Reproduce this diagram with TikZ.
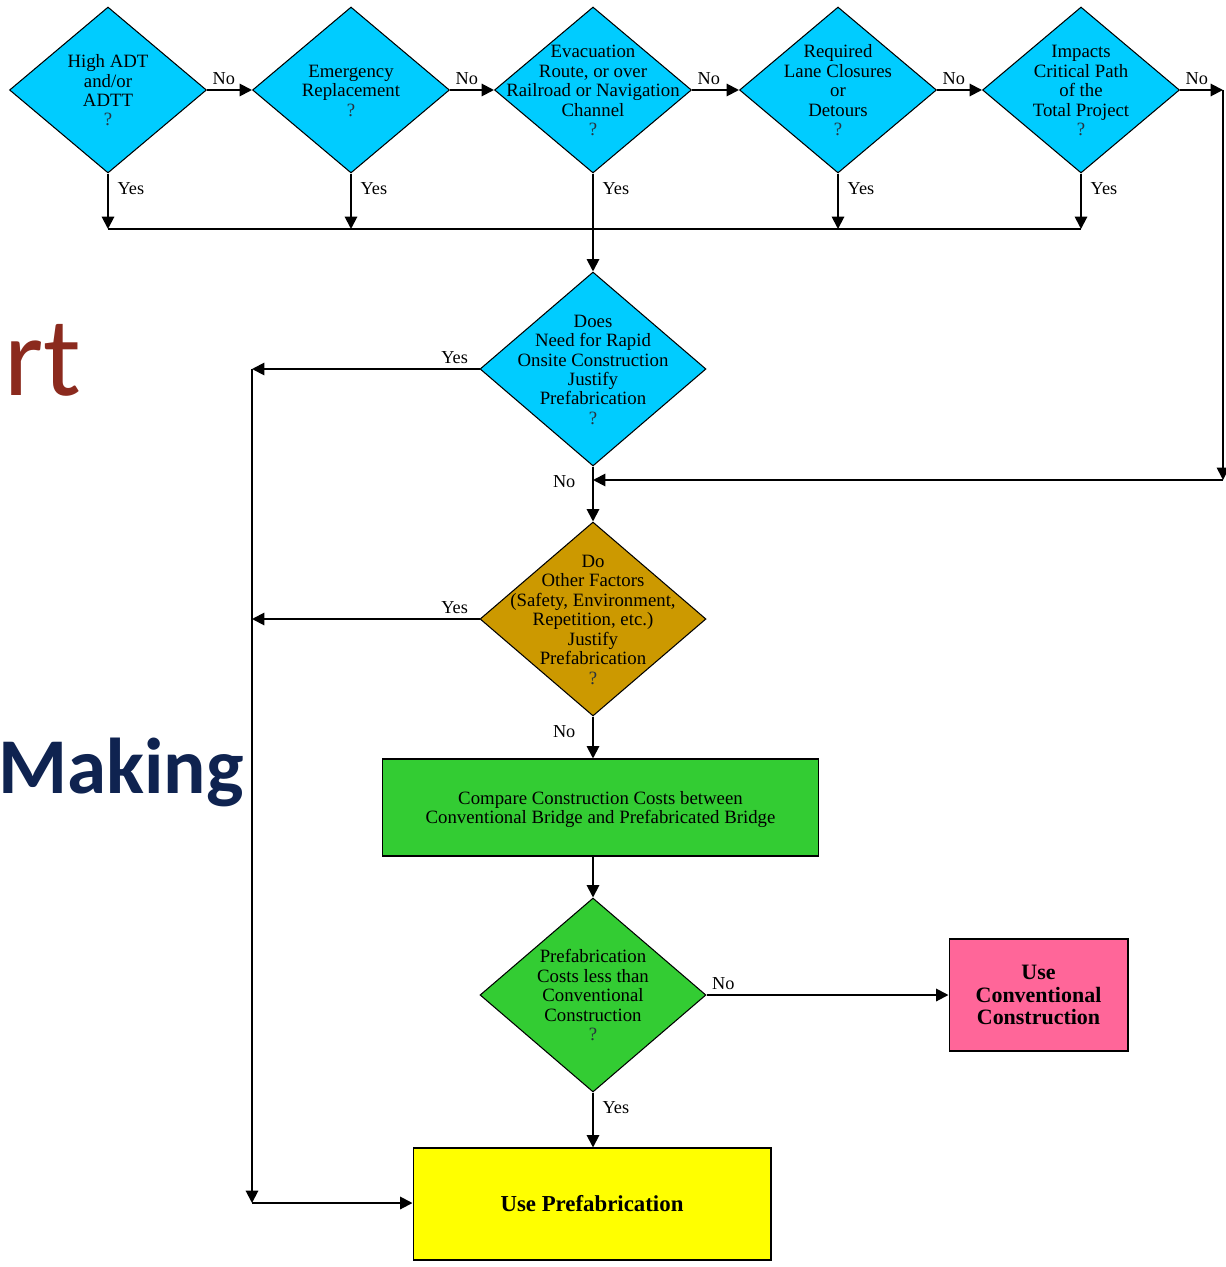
\documentclass[tikz,border=0pt]{standalone}
\usepackage{fontspec}
\setmainfont{Liberation Serif}
\newfontfamily\slidefont{Carlito}
\usetikzlibrary{shapes.geometric, arrows.meta}
\definecolor{askcyan}{RGB}{0,204,255}
\definecolor{askgold}{RGB}{204,153,0}
\definecolor{costgreen}{RGB}{51,204,51}
\definecolor{convpink}{RGB}{255,102,153}
\definecolor{prefyellow}{RGB}{255,255,0}
\definecolor{qmark}{RGB}{40,50,62}
\definecolor{titlered}{RGB}{139,42,30}
\definecolor{titlenavy}{RGB}{15,35,80}

% diamond text that does not grow the diamond
\newcommand{\asktext}[1]{\smash{\makebox[0pt]{\raisebox{-4.4pt}{\begin{tabular}{@{}c@{}}#1\end{tabular}}}}}
\newcommand{\qm}{\textcolor{qmark}{?}}

\begin{document}
\begin{tikzpicture}[
    x=0.02cm, y=-0.02cm,
    query/.style={diamond, draw=black, line width=0.6pt, inner sep=0pt,
                  font=\fontsize{10.7}{11.06}\selectfont},
    topq/.style={query, fill=askcyan, minimum width=3.94cm, minimum height=3.32cm},
    midq/.style={query, minimum width=4.52cm, minimum height=3.88cm},
    box/.style={rectangle, draw=black, line width=0.6pt, align=center, inner sep=0pt},
    flow/.style={-{Triangle[length=7pt,width=7pt]}, line width=1.1pt},
    link/.style={line width=1.1pt},
    lbl/.style={font=\fontsize{10.4}{11}\selectfont, inner sep=3pt},
]
\useasboundingbox (0,0) rectangle (1226,1267);

% slide title fragments
\node[font=\slidefont\fontsize{64}{64}\selectfont, text=titlered,
      anchor=base west, inner sep=0pt] (titlert) at (4,395) {rt};
\node[font=\slidefont\bfseries\fontsize{45}{45}\selectfont, text=titlenavy,
      anchor=base west, inner sep=0pt] (titlemaking) at (-2,793) {Making};

% top row of questions
\node[topq] (adt) at (108,90) {\asktext{High ADT\\and/or\\ADTT\\\qm}};
\node[topq] (emerg) at (351,90) {\asktext{Emergency\\Replacement\\\qm}};
\node[topq] (evac) at (593,90)
     {\asktext{Evacuation\\Route, or over\\Railroad or Navigation\\Channel\\\qm}};
\node[topq] (lanes) at (838,90) {\asktext{Required\\Lane Closures\\or\\Detours\\\qm}};
\node[topq] (critical) at (1081,90)
     {\asktext{Impacts\\Critical Path\\of the\\Total Project\\\qm}};

% main column
\node[midq, fill=askcyan] (rapid) at (593,369)
     {\asktext{Does\\Need for Rapid\\Onsite Construction\\Justify\\Prefabrication\\\qm}};
\node[midq, fill=askgold] (other) at (593,619)
     {\asktext{Do\\Other Factors\\(Safety, Environment,\\Repetition, etc.)\\Justify\\Prefabrication\\\qm}};
\node[box, fill=costgreen, minimum width=8.74cm, minimum height=1.94cm,
      text depth=0pt, font=\fontsize{10.7}{10.8}\selectfont] (compare) at (600.5,807.5)
     {Compare Construction Costs between\\Conventional Bridge and Prefabricated Bridge};
\node[midq, fill=costgreen] (cheap) at (593,995)
     {\asktext{Prefabrication\\Costs less than\\Conventional\\Construction\\\qm}};
\node[box, fill=convpink, minimum width=3.58cm, minimum height=2.24cm,
      font=\bfseries\fontsize{12.5}{13}\selectfont] (conv) at (1038.5,995)
     {Use\\Conventional\\Construction};
\node[box, fill=prefyellow, minimum width=7.16cm, minimum height=2.24cm,
      font=\bfseries\fontsize{13}{14}\selectfont] (prefab) at (592,1204)
     {Use Prefabrication};

\coordinate (bus) at (593,229);
\coordinate (ne) at (1223,90);
\coordinate (se) at (1223,480);
\coordinate (join) at (593,480);
\coordinate (lt) at (252,369);
\coordinate (lb) at (252,1203);

% "No" chain along the top
\draw[flow] (adt.east) -- (emerg.west);
\draw[flow] (emerg.east) -- (evac.west);
\draw[flow] (evac.east) -- (lanes.west);
\draw[flow] (lanes.east) -- (critical.west);
\draw[flow] (critical.east) -- (ne);
\draw[flow] (ne) -- (se);
\draw[flow] (se) -- (join);

% "Yes" drops onto the bus
\draw[flow] (adt.south) -- (adt.south |- bus);
\draw[flow] (emerg.south) -- (emerg.south |- bus);
\draw[flow] (lanes.south) -- (lanes.south |- bus);
\draw[flow] (critical.south) -- (critical.south |- bus);
\draw[link] (adt.south |- bus) -- (critical.south |- bus);
\draw[flow] (evac.south) -- (rapid.north);

% left return to prefabrication
\draw[flow] (rapid.west) -- (lt);
\draw[flow] (other.west) -- (other.west -| lt);
\draw[flow] (lt) -- (lb);
\draw[flow] (lb) -- (lb -| prefab.west);

\draw[flow] (rapid.south) -- (other.north);
\draw[flow] (other.south) -- (other.south |- compare.north);
\draw[flow] (compare.south -| cheap.north) -- (cheap.north);
\draw[flow] (cheap.east) -- (conv.west);
\draw[flow] (cheap.south) -- (cheap.south |- prefab.north);

% branch labels
\node[lbl, anchor=south west] (no1) at (adt.east) {No};
\node[lbl, anchor=south west] (no2) at (emerg.east) {No};
\node[lbl, anchor=south west] (no3) at (evac.east) {No};
\node[lbl, anchor=south west] (no4) at (lanes.east) {No};
\node[lbl, anchor=south west] (no5) at (critical.east) {No};
\node[lbl, anchor=west] (yes1) at ([shift={(4,15)}]adt.south) {Yes};
\node[lbl, anchor=west] (yes2) at ([shift={(4,15)}]emerg.south) {Yes};
\node[lbl, anchor=west] (yes3) at ([shift={(4,15)}]evac.south) {Yes};
\node[lbl, anchor=west] (yes4) at ([shift={(4,15)}]lanes.south) {Yes};
\node[lbl, anchor=west] (yes5) at ([shift={(4,15)}]critical.south) {Yes};
\node[lbl, anchor=south east] (yes6) at ([shift={(-6,0)}]rapid.west) {Yes};
\node[lbl, anchor=east] (no6) at ([shift={(-12,15)}]rapid.south) {No};
\node[lbl, anchor=south east] (yes7) at ([shift={(-6,0)}]other.west) {Yes};
\node[lbl, anchor=east] (no7) at ([shift={(-12,15)}]other.south) {No};
\node[lbl, anchor=south west] (no8) at (cheap.east) {No};
\node[lbl, anchor=west] (yes8) at ([shift={(4,15)}]cheap.south) {Yes};

\end{tikzpicture}
\end{document}
